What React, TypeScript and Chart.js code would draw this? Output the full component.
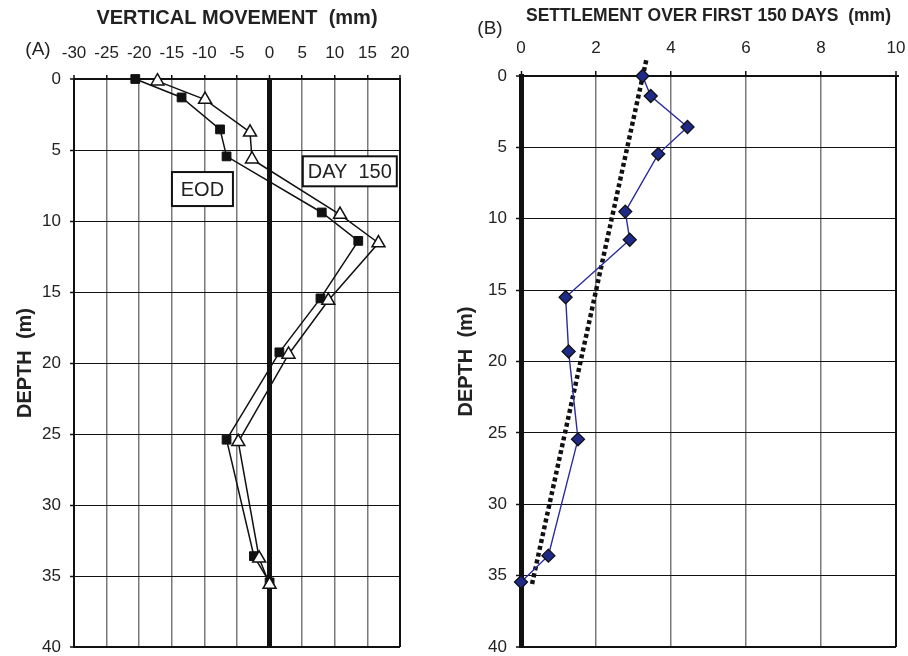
import React, { useEffect, useRef } from "react";
import { Chart, registerables } from "chart.js";

Chart.register(...registerables);

// ---------- Panel A data ----------
const movementTicks = [-30, -25, -20, -15, -10, -5, 0, 5, 10, 15, 20];
const depthTicks = [0, 5, 10, 15, 20, 25, 30, 35, 40];
const eodDepths = [0, 1.3, 3.55, 5.45, 9.4, 11.4, 15.45, 19.25, 25.4, 33.6, 35.45];
const eodMovement = [-20.6, -13.5, -7.6, -6.6, 8.0, 13.6, 7.8, 1.5, -6.6, -2.4, 0];
const day150Depths = [0.15, 1.45, 3.75, 5.65, 9.55, 11.55, 15.6, 19.4, 25.55, 33.75, 35.6];
const day150Movement = [-17.2, -9.9, -3.0, -2.7, 10.8, 16.7, 9.0, 2.9, -4.8, -1.6, 0];

// ---------- Panel B data ----------
const settlementTicks = [0, 2, 4, 6, 8, 10];
const settleDepths = [0, 1.4, 3.57, 5.47, 9.5, 11.47, 15.5, 19.3, 25.45, 33.6, 35.45];
const settlement = [3.24, 3.46, 4.44, 3.66, 2.78, 2.9, 1.19, 1.27, 1.52, 0.73, 0.0];
const trendDepths = [-1.1, 35.7];
const trendSettlement = [3.34, 0.285];

const FONT = '"Liberation Sans", Arial, Helvetica, sans-serif';
Chart.defaults.font.family = FONT;

type Note = { text: string; x: number; y: number; w: number; h: number };

function extrasPlugin(label: string, dx: number, dy: number, notes: Note[]) {
  return {
    id: "extras",
    afterDatasetsDraw(chart: any) {
      const ctx = chart.ctx;
      const xs = chart.scales.x;
      const ys = chart.scales.y;
      const area = chart.chartArea;
      ctx.save();
      ctx.fillStyle = "#222";
      ctx.textAlign = "center";
      ctx.textBaseline = "middle";
      ctx.font = `19px ${FONT}`;
      ctx.fillText(label, area.left + dx, area.top + dy);
      ctx.font = `20px ${FONT}`;
      for (const n of notes) {
        const cx = xs.getPixelForValue(n.x);
        const cy = ys.getPixelForValue(n.y);
        ctx.fillStyle = "#fff";
        ctx.fillRect(cx - n.w / 2, cy - n.h / 2, n.w, n.h);
        ctx.strokeStyle = "#111";
        ctx.lineWidth = 2;
        ctx.strokeRect(cx - n.w / 2, cy - n.h / 2, n.w, n.h);
        ctx.fillStyle = "#222";
        ctx.fillText(n.text, cx, cy + 1);
      }
      ctx.restore();
    },
  };
}

function fixX(h: number) {
  return (scale: any) => {
    scale.height = h;
    scale.paddingLeft = 0;
    scale.paddingRight = 0;
    scale.paddingTop = 0;
    scale.paddingBottom = 0;
  };
}
function fixY(w: number) {
  return (scale: any) => {
    scale.width = w;
    scale.paddingLeft = 0;
    scale.paddingRight = 0;
    scale.paddingTop = 0;
    scale.paddingBottom = 0;
  };
}

function yScale(width: number, borderWidth: number, tickLength: number, titlePad: number) {
  return {
    type: "linear",
    position: "left",
    reverse: true,
    min: depthTicks[0],
    max: depthTicks[depthTicks.length - 1],
    afterBuildTicks: (s: any) => {
      s.ticks = depthTicks.map((v) => ({ value: v }));
    },
    afterFit: fixY(width),
    ticks: {
      color: "#222",
      font: { size: 17 },
      padding: 9,
    },
    grid: {
      color: "#111",
      lineWidth: (c: any) => (c.tick && (c.tick.value === 0 || c.tick.value === 40) ? 2 : 1),
      tickColor: "#111",
      tickLength: tickLength,
      tickWidth: 1.5,
    },
    border: { display: true, color: "#111", width: borderWidth },
    title: {
      display: true,
      text: "DEPTH  (m)",
      color: "#222",
      font: { size: 20, weight: "bold" },
      padding: { top: titlePad, bottom: 0 },
    },
  };
}

export default function App() {
  const refA = useRef<HTMLCanvasElement>(null);
  const refB = useRef<HTMLCanvasElement>(null);

  useEffect(() => {
    const chartA = new Chart(refA.current as HTMLCanvasElement, {
      type: "scatter",
      data: {
        datasets: [
          {
            label: "DAY 150",
            data: day150Depths.map((d, i) => ({ x: day150Movement[i], y: d })),
            showLine: true,
            borderColor: "#111",
            borderWidth: 1.5,
            pointStyle: "triangle",
            pointRadius: 7.5,
            pointBackgroundColor: "#fff",
            pointBorderColor: "#111",
            pointBorderWidth: 1.5,
            clip: false,
          },
          {
            label: "EOD",
            data: eodDepths.map((d, i) => ({ x: eodMovement[i], y: d })),
            showLine: true,
            borderColor: "#111",
            borderWidth: 1.5,
            pointStyle: "rect",
            pointRadius: 6.2,
            pointBackgroundColor: "#111",
            pointBorderColor: "#111",
            pointBorderWidth: 1,
            clip: false,
          },
        ],
      },
      options: {
        animation: false,
        responsive: false,
        events: [],
        layout: { padding: { left: 0, top: 0, right: 54, bottom: 8 } },
        plugins: { legend: { display: false }, tooltip: { enabled: false } },
        scales: {
          x: {
            type: "linear",
            position: "top",
            min: movementTicks[0],
            max: movementTicks[movementTicks.length - 1],
            afterBuildTicks: (s: any) => {
              s.ticks = movementTicks.map((v) => ({ value: v }));
            },
            afterFit: fixX(79),
            ticks: { color: "#222", font: { size: 17 }, padding: 11 },
            grid: {
              color: (c: any) => {
                const v = c.tick ? c.tick.value : null;
                return v === 0 || v === -30 || v === 20 ? "#111" : "#7a7a7a";
              },
              lineWidth: (c: any) => {
                const v = c.tick ? c.tick.value : null;
                if (v === 0) return 5;
                if (v === -30 || v === 20) return 2;
                return 1.5;
              },
              tickColor: "#111",
              tickLength: 4,
              tickWidth: 1.5,
            },
            border: { display: true, color: "#111", width: 2 },
            title: {
              display: true,
              text: "VERTICAL MOVEMENT  (mm)",
              color: "#222",
              font: { size: 20, weight: "bold" },
              padding: { top: 6, bottom: 0 },
            },
          },
          y: yScale(74, 2, 4, 13),
        },
      } as any,
      plugins: [
        extrasPlugin("(A)", -36, -29, [
          { text: "EOD", x: -10.3, y: 7.75, w: 61, h: 34 },
          { text: "DAY  150", x: 12.3, y: 6.5, w: 94, h: 30 },
        ]),
      ],
    });

    const chartB = new Chart(refB.current as HTMLCanvasElement, {
      type: "scatter",
      data: {
        datasets: [
          {
            label: "Settlement",
            data: settleDepths.map((d, i) => ({ x: settlement[i], y: d })),
            showLine: true,
            borderColor: "#2a2a9c",
            borderWidth: 1.4,
            pointStyle: "rectRot",
            pointRadius: 6.5,
            pointBackgroundColor: "#1f2a88",
            pointBorderColor: "#111",
            pointBorderWidth: 1.3,
            clip: false,
          },
          {
            label: "Trend",
            data: trendDepths.map((d, i) => ({ x: trendSettlement[i], y: d })),
            showLine: true,
            borderColor: "#111",
            borderWidth: 4.5,
            borderDash: [4, 3],
            pointRadius: 0,
            clip: false,
          },
        ],
      },
      options: {
        animation: false,
        responsive: false,
        events: [],
        layout: { padding: { left: 0, top: 0, right: 12, bottom: 9 } },
        plugins: { legend: { display: false }, tooltip: { enabled: false } },
        scales: {
          x: {
            type: "linear",
            position: "top",
            min: settlementTicks[0],
            max: settlementTicks[settlementTicks.length - 1],
            afterBuildTicks: (s: any) => {
              s.ticks = settlementTicks.map((v) => ({ value: v }));
            },
            afterFit: fixX(76),
            ticks: { color: "#222", font: { size: 17 }, padding: 12 },
            grid: {
              color: (c: any) => {
                const v = c.tick ? c.tick.value : null;
                return v === 0 || v === 10 ? "#111" : "#7a7a7a";
              },
              lineWidth: (c: any) => {
                const v = c.tick ? c.tick.value : null;
                if (v === 0) return 5;
                if (v === 10) return 2;
                return 1.5;
              },
              tickColor: "#111",
              tickLength: 5,
              tickWidth: 1.5,
            },
            border: { display: true, color: "#111", width: 2 },
            title: {
              display: true,
              text: "SETTLEMENT OVER FIRST 150 DAYS  (mm)",
              color: "#222",
              font: { size: 17.5, weight: "bold" },
              padding: { top: 6, bottom: 0 },
            },
          },
          y: yScale(67, 5, 5, 0),
        },
      } as any,
      plugins: [extrasPlugin("(B)", -31, -47, [])],
    });

    return () => {
      chartA.destroy();
      chartB.destroy();
    };
  }, []);

  return (
    <div style={{ position: "fixed", left: 0, top: 0, width: 908, height: 656, background: "#fff" }}>
      <canvas ref={refA} width={454} height={656} style={{ position: "absolute", left: 0, top: 0 }} />
      <canvas ref={refB} width={454} height={656} style={{ position: "absolute", left: 454, top: 0 }} />
    </div>
  );
}
